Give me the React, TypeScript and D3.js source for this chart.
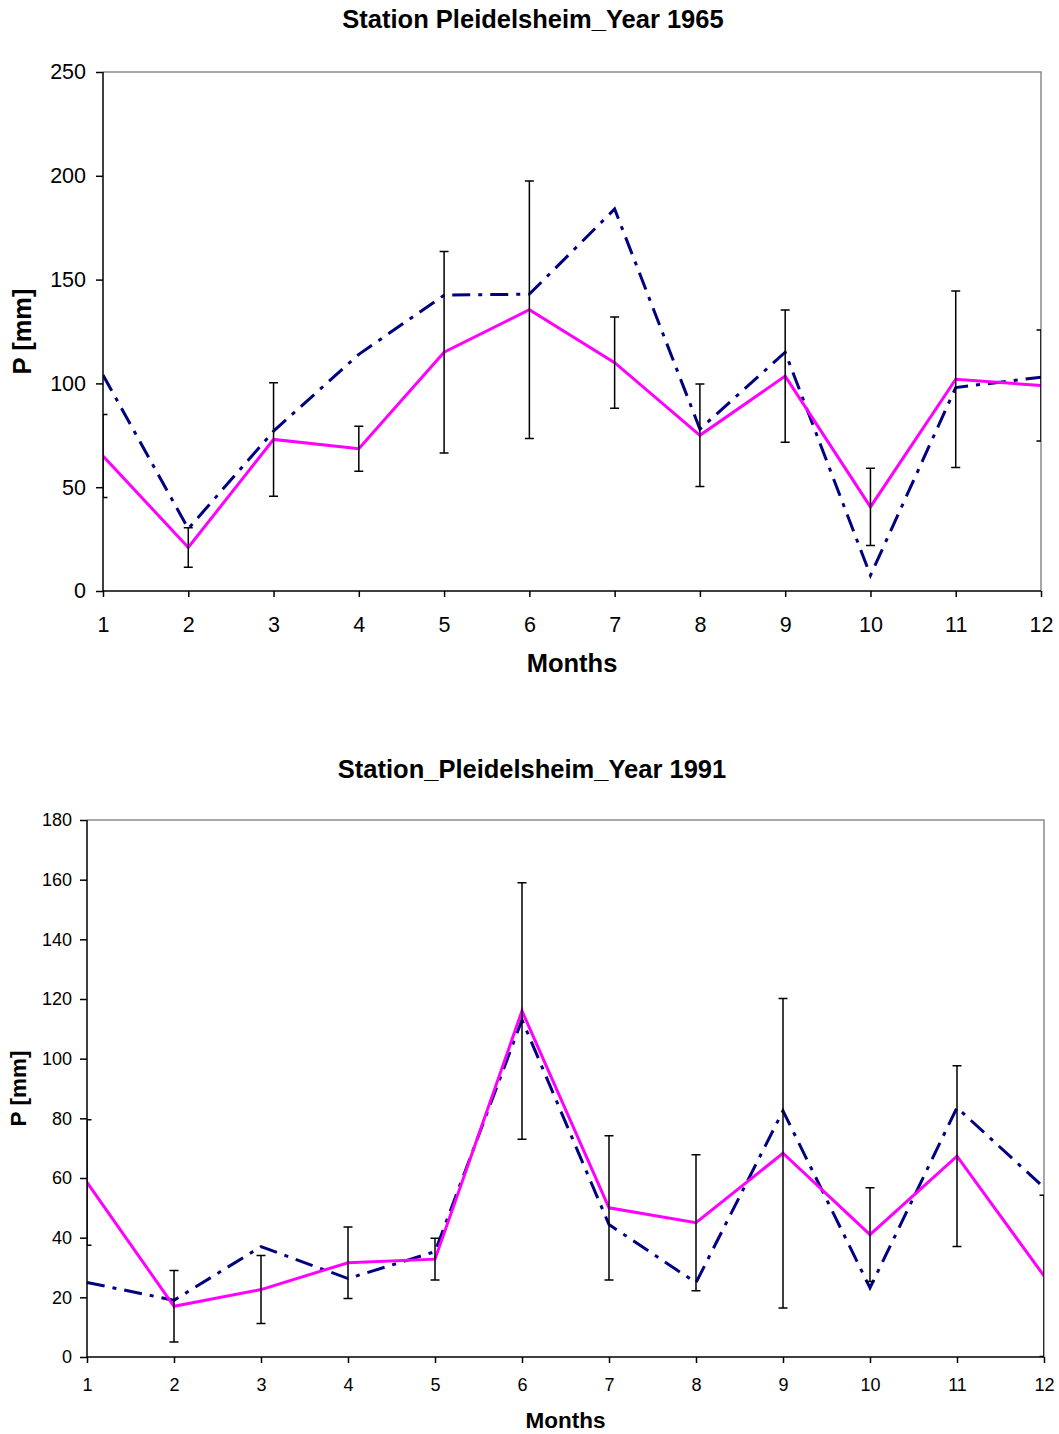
import React, { useEffect, useRef } from 'react';
import * as d3 from 'd3';

const months = [1, 2, 3, 4, 5, 6, 7, 8, 9, 10, 11, 12];

// 1965
const obs1965 = [65, 21, 73, 68.5, 115, 135.5, 110, 75, 103.5, 40.5, 102, 99];
const sim1965 = [104, 30, 77, 114, 142.5, 143, 184, 78, 115, 7.5, 98, 103];
const err1965 = [20, 9.5, 27.3, 10.8, 48.5, 62, 22, 24.7, 31.8, 18.6, 42.5, 26.7];
const yTicks1965 = [0, 50, 100, 150, 200, 250];

// 1991
const obs1991 = [58.5, 17, 22.6, 31.6, 32.8, 116, 50, 45, 68.3, 41, 67.3, 27.2];
const sim1991 = [25, 19, 37, 26.3, 35.3, 113, 44.4, 24.9, 82.5, 23.2, 83.6, 56.8];
const err1991 = [21, 12, 11.4, 12, 7, 43, 24.2, 22.8, 51.9, 15.7, 30.3, 27];
const yTicks1991 = [0, 20, 40, 60, 80, 100, 120, 140, 160, 180];

const FONT = "'Liberation Sans', Arial, Helvetica, sans-serif";

const drawPanel = (svg, cfg) => {
  const g = svg.append('g');
  const x = d3.scaleLinear().domain([1, 12]).range([cfg.left, cfg.right]);
  const y = d3.scaleLinear().domain([0, cfg.yMax]).range([cfg.bottom, cfg.top]);

  const clipId = 'clip-' + cfg.id;
  g.append('clipPath').attr('id', clipId)
    .append('rect')
    .attr('x', cfg.left).attr('y', cfg.top)
    .attr('width', cfg.right - cfg.left).attr('height', cfg.bottom - cfg.top);

  // frame: gray top/right
  g.append('path')
    .attr('d', `M${cfg.left},${cfg.top}H${cfg.right}V${cfg.bottom}`)
    .attr('fill', 'none').attr('stroke', '#8c8c8c').attr('stroke-width', 1.5);

  const plot = g.append('g').attr('clip-path', `url(#${clipId})`);

  const line = d3.line().x((d, i) => x(months[i])).y(d => y(d));

  plot.append('path')
    .datum(cfg.sim)
    .attr('d', line)
    .attr('fill', 'none')
    .attr('stroke', '#000080')
    .attr('stroke-width', 3)
    .attr('stroke-dasharray', '18,8,4,8');

  plot.append('path')
    .datum(cfg.obs)
    .attr('d', line)
    .attr('fill', 'none')
    .attr('stroke', '#ff00ff')
    .attr('stroke-width', 3);

  // error bars
  const eb = plot.append('g').attr('stroke', '#000').attr('stroke-width', 1.5).attr('fill', 'none');
  cfg.obs.forEach((v, i) => {
    const cx = x(months[i]);
    const hi = y(v + cfg.err[i]);
    const lo = y(v - cfg.err[i]);
    eb.append('path')
      .attr('d', `M${cx},${hi}V${lo}M${cx - 4.5},${hi}H${cx + 4.5}M${cx - 4.5},${lo}H${cx + 4.5}`);
  });

  // axes
  const yAxis = g.append('g')
    .attr('transform', `translate(${cfg.left},0)`)
    .call(d3.axisLeft(y).tickValues(cfg.yTicks).tickSize(7).tickSizeOuter(0).tickPadding(cfg.yPad));
  yAxis.select('.domain').remove();
  yAxis.selectAll('line').attr('stroke', '#000').attr('stroke-width', 1.5);
  yAxis.selectAll('text')
    .style('font-family', FONT).style('font-size', cfg.tickFont + 'px').attr('fill', '#000');

  const xAxis = g.append('g')
    .attr('transform', `translate(0,${cfg.bottom})`)
    .call(d3.axisBottom(x).tickValues(months).tickFormat(d3.format('d')).tickSize(6).tickSizeOuter(0).tickPadding(cfg.xPad));
  xAxis.select('.domain').remove();
  xAxis.selectAll('line').attr('stroke', '#000').attr('stroke-width', 1.5);
  xAxis.selectAll('text')
    .style('font-family', FONT).style('font-size', cfg.tickFont + 'px').attr('fill', '#000');

  // black axis lines left/bottom
  g.append('path')
    .attr('d', `M${cfg.left},${cfg.top}V${cfg.bottom}H${cfg.right}`)
    .attr('fill', 'none').attr('stroke', '#000').attr('stroke-width', 1.5);

  g.append('text')
    .attr('x', cfg.titleX).attr('y', cfg.titleY)
    .attr('text-anchor', 'middle')
    .style('font-family', FONT).style('font-weight', 'bold').style('font-size', cfg.titleFont + 'px')
    .text(cfg.title);

  g.append('text')
    .attr('x', (cfg.left + cfg.right) / 2).attr('y', cfg.monthsY)
    .attr('text-anchor', 'middle')
    .style('font-family', FONT).style('font-weight', 'bold').style('font-size', cfg.labelFont + 'px')
    .text('Months');

  g.append('text')
    .attr('transform', `translate(${cfg.pX},${(cfg.top + cfg.bottom) / 2}) rotate(-90)`)
    .attr('text-anchor', 'middle')
    .style('font-family', FONT).style('font-weight', 'bold').style('font-size', cfg.labelFont + 'px')
    .text('P [mm]');
};

const App = () => {
  const ref = useRef(null);

  useEffect(() => {
    const svg = d3.select(ref.current);
    svg.selectAll('*').remove();

    drawPanel(svg, {
      id: 'a', title: 'Station Pleidelsheim_Year 1965',
      left: 103, right: 1041, top: 72, bottom: 591, yMax: 250,
      yTicks: yTicks1965, obs: obs1965, sim: sim1965, err: err1965,
      tickFont: 21.5, labelFont: 25.5, titleFont: 25.5,
      titleX: 533, titleY: 28, monthsY: 672, pX: 31, yPad: 10, xPad: 20,
    });

    drawPanel(svg, {
      id: 'b', title: 'Station_Pleidelsheim_Year 1991',
      left: 87, right: 1044, top: 820, bottom: 1357, yMax: 180,
      yTicks: yTicks1991, obs: obs1991, sim: sim1991, err: err1991,
      tickFont: 18, labelFont: 22.5, titleFont: 25.5,
      titleX: 532, titleY: 778, monthsY: 1428, pX: 26, yPad: 8, xPad: 15,
    });
  }, []);

  return (
    <svg
      ref={ref}
      width={1059}
      height={1434}
      style={{ position: 'absolute', left: 0, top: 0, background: '#fff' }}
    />
  );
};

export default App;
